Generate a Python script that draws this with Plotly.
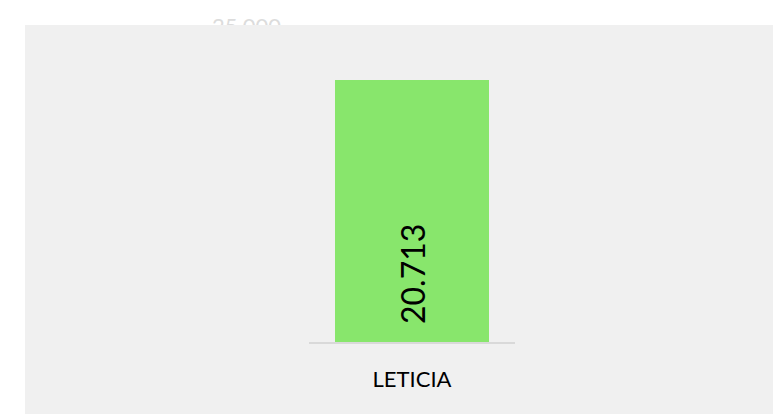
import plotly.graph_objects as go

# Data
categories = ["LETICIA"]
values = [20713]
y_ticks = [25000]

BAR_COLOR = "#88E66C"
PANEL_COLOR = "#F0F0F0"


def es_number(v):
    return f"{v:,}".replace(",", ".")


fig = go.Figure(
    go.Bar(
        x=categories,
        y=values,
        width=0.75,
        marker=dict(color=BAR_COLOR, line=dict(width=0)),
        hoverinfo="skip",
    )
)

# Value labels, rotated, sitting near the base of each bar
for cat, val in zip(categories, values):
    fig.add_annotation(
        x=cat, y=0, xref="x", yref="y",
        text=es_number(val),
        textangle=-90,
        showarrow=False,
        yanchor="bottom",
        yshift=16,
        font=dict(family="Lato", size=32, color="#000000"),
    )

# Grey panel behind the chart
fig.add_shape(
    type="rect", layer="below",
    xref="paper", yref="paper",
    xsizemode="pixel", ysizemode="pixel",
    xanchor=0, yanchor=0,
    x0=-284, x1=480, y0=-90, y1=317,
    fillcolor=PANEL_COLOR, line=dict(width=0),
)
# Same panel colour drawn over the left side so the axis labels sit behind it
fig.add_shape(
    type="rect", layer="above",
    xref="paper", yref="paper",
    xsizemode="pixel", ysizemode="pixel",
    xanchor=0, yanchor=0,
    x0=-284, x1=-6, y0=-90, y1=317,
    fillcolor=PANEL_COLOR, line=dict(width=0),
)

fig.update_layout(
    width=773, height=414, autosize=False,
    margin=dict(l=309, r=258, t=23, b=72, pad=0),
    paper_bgcolor="#FFFFFF",
    plot_bgcolor="rgba(0,0,0,0)",
    separators=",.",
    showlegend=False,
    bargap=0,
    xaxis=dict(
        type="category",
        showline=True, linecolor="#D9D9D9", linewidth=2,
        showgrid=False, zeroline=False,
        ticks="", ticklabelstandoff=17,
        tickfont=dict(family="Lato", size=22, color="#000000"),
    ),
    yaxis=dict(
        range=[0, 25000],
        tickvals=y_ticks, tickformat=",",
        showline=False, showgrid=False, zeroline=False,
        ticks="", ticklabelstandoff=27,
        tickfont=dict(family="Lato", size=22, color="#DCDCDC"),
    ),
)

fig.write_html("out.html")
